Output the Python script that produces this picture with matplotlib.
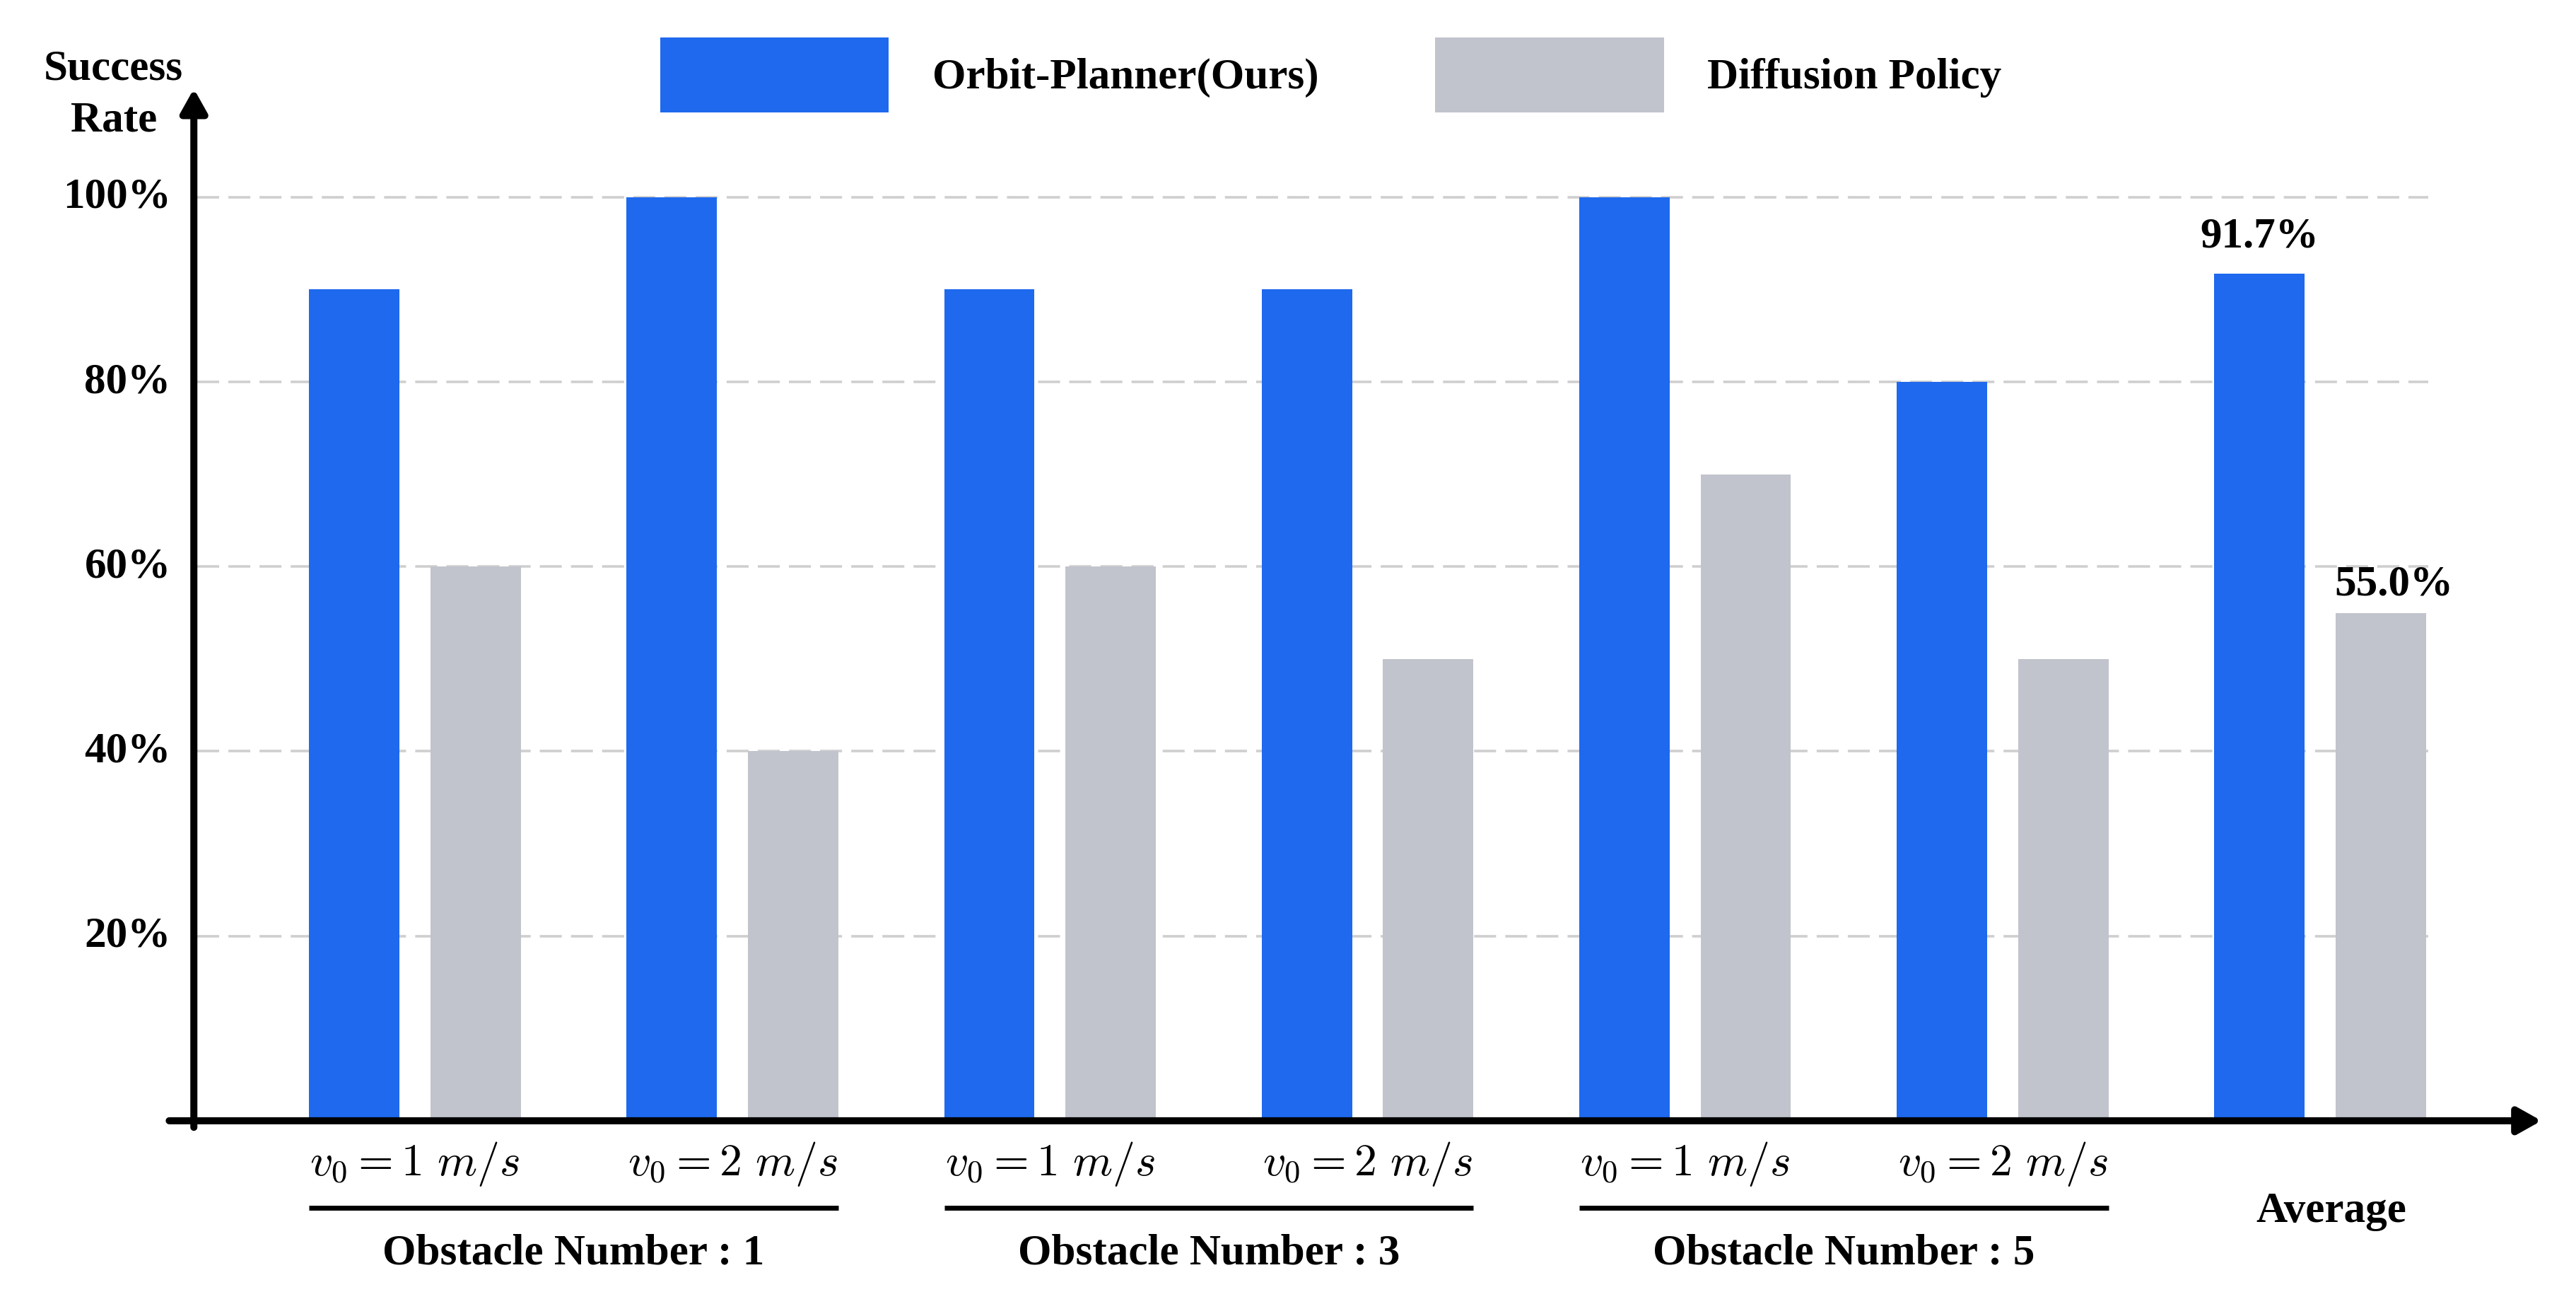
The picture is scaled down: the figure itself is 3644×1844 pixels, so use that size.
import matplotlib
matplotlib.use('Agg')
import matplotlib.pyplot as plt
import numpy as np

plt.rcParams['font.family'] = ['Liberation Serif', 'DejaVu Serif']
plt.rcParams['font.weight'] = 'bold'
plt.rcParams['mathtext.fontset'] = 'cm'

# data
speed_labels = [r'$v_0 = 1\ m/s$', r'$v_0 = 2\ m/s$'] * 3
group_labels = ['Obstacle Number : 1', 'Obstacle Number : 3', 'Obstacle Number : 5']
orbit = [90, 100, 90, 90, 100, 80, 91.7]
diffusion = [60, 40, 60, 50, 70, 50, 55.0]
yticks = [20, 40, 60, 80, 100]

BLUE = '#1e69ee'
GRAY = '#c1c4cc'

# layout helpers: map reference pixel positions (1568 px wide view) to data
def X(d):
    return (d - 252.5) / 193.3

def Y(d):
    return (682 - d) / 5.62

fig = plt.figure(figsize=(18.22, 9.22), dpi=200)
ax = fig.add_axes([0, 0, 1, 1])
ax.set_xlim(X(0), X(1568))
ax.set_ylim(Y(793.5), Y(0))
ax.axis('off')

x = np.arange(len(orbit))
w = 0.2845
off = 0.191

# gridlines
ax.hlines(yticks, X(120), X(1478), colors='#cfcfcf', linewidth=1.3,
          linestyles=(0, (8.6, 3.6)), zorder=1)

b1 = ax.bar(x - off, orbit, w, color=BLUE, label='Orbit-Planner(Ours)', zorder=2)
b2 = ax.bar(x + off, diffusion, w, color=GRAY, label='Diffusion Policy', zorder=2)

# axes with arrows
arrow = dict(arrowstyle='-|>,head_length=0.5,head_width=0.28', lw=3.6,
             color='black', shrinkA=0, shrinkB=0, mutation_scale=20)
ax.annotate('', xy=(X(118), Y(54)), xytext=(X(118), Y(686)), arrowprops=arrow, zorder=5)
ax.annotate('', xy=(X(1547), Y(682)), xytext=(X(103), Y(682)), arrowprops=arrow, zorder=5)

fs = 22
for t in yticks:
    ax.text(X(104), t, f'{t}%', ha='right', va='center', fontsize=fs)
ax.text(X(69), Y(48.6), 'Success', ha='center', va='baseline', fontsize=fs)
ax.text(X(69.5), Y(80), 'Rate', ha='center', va='baseline', fontsize=fs)

# x labels
for i, lab in enumerate(speed_labels):
    ax.text(x[i], Y(715), lab, ha='center', va='baseline', fontsize=23, fontweight='normal')
for g, lab in enumerate(group_labels):
    x0 = x[2 * g] - off - w / 2
    x1 = x[2 * g + 1] + off + w / 2
    ax.plot([x0, x1], [Y(735), Y(735)], color='black', lw=2.5, solid_capstyle='butt')
    ax.text((x[2 * g] + x[2 * g + 1]) / 2, Y(769), lab, ha='center', va='baseline', fontsize=fs)
ax.text(X(1419), Y(743.6), 'Average', ha='center', va='baseline', fontsize=fs)

# value labels for average
ax.text(x[-1] - off, Y(150.6), f'{orbit[-1]:.1f}%', ha='center', va='baseline', fontsize=fs)
ax.text(X(1457), Y(362), f'{diffusion[-1]:.1f}%', ha='center', va='baseline', fontsize=fs)

ax.legend(handles=[b1, b2], loc='center', ncol=2, frameon=False, fontsize=fs,
          handlelength=5.3, handleheight=2.3, handletextpad=1.0, columnspacing=2.7,
          borderpad=0, bbox_to_anchor=(810 / 1568, 1 - 45.5 / 793.5),
          bbox_transform=fig.transFigure)

plt.savefig('out.png', dpi=200)
